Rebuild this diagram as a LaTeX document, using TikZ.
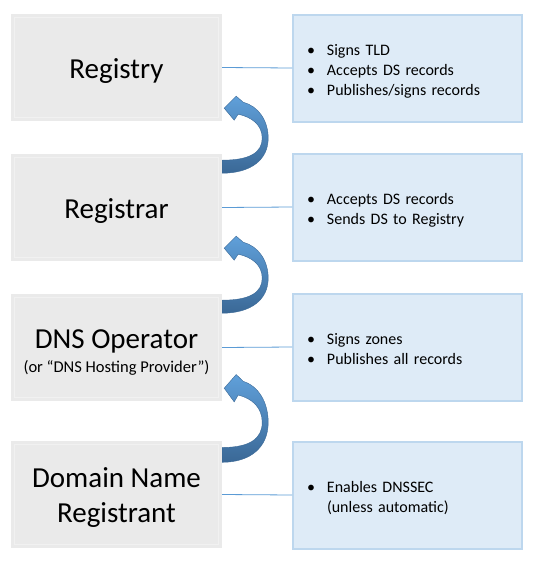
\documentclass[tikz,border=0pt]{standalone}
\usepackage{fontspec}
\setmainfont{Carlito}
\usepackage{tikz}
\usetikzlibrary{calc}
\definecolor{rolegray}{RGB}{234,234,234}
\definecolor{rolerim}{RGB}{241,241,241}
\definecolor{dutyfill}{RGB}{222,235,247}
\definecolor{dutyedge}{RGB}{189,215,238}
\definecolor{tieblue}{RGB}{91,155,213}
\definecolor{hooklight}{RGB}{96,160,218}
\definecolor{hookdark}{RGB}{58,104,150}
\tikzstyle{rolebox} = [rectangle, fill=rolegray, minimum width=211pt, minimum height=107pt, align=center, inner sep=0pt, font=\fontsize{29}{35}\selectfont, execute at begin node={\rule{0pt}{28pt}}, execute at end node={\rule[-6pt]{0pt}{6pt}}, path picture={\draw[rolerim, line width=1pt] ([xshift=3.5pt,yshift=-3.5pt]path picture bounding box.north west) rectangle ([xshift=-3.5pt,yshift=3.5pt]path picture bounding box.south east);}]
\tikzstyle{dutybox} = [rectangle, fill=dutyfill, draw=dutyedge, line width=2pt, minimum width=229pt, minimum height=107pt, text width=201pt, align=left, inner xsep=14pt, font=\fontsize{16}{20}\selectfont, execute at begin node={\rule{0pt}{18pt}}, execute at end node={\rule[-4pt]{0pt}{4pt}}]
\tikzstyle{tieline} = [draw=tieblue, line width=0.8pt]
\tikzstyle{hook} = [top color=hooklight, bottom color=hookdark, draw=hookdark, line width=0.4pt]
\newcommand{\bul}[1]{\makebox[20pt][l]{•}#1}
% curved arrow from the lower box back up to #1
\newcommand{\handoff}[2]{%
  \begin{scope}[shift={($(#1.south east)+(2,-13)$)}, yscale=#2]
    \shade[hook] (0,0) -- (12,-12) -- (19,-6) .. controls (34,-2) and (44,12) .. (44,30)
      .. controls (44,52) and (26,65) .. (-2,65) -- (-2,52)
      .. controls (26,52) and (38,44) .. (38,30) .. controls (38,17) and (28,9) .. (14,6)
      -- (10,12) -- cycle;
  \end{scope}}

\begin{document}
\begin{tikzpicture}[x=1pt, y=-1pt]
\useasboundingbox (0,0) rectangle (540,563);

% left column
\node[rolebox] (registry) at (116.5,67.5) {Registry};
\node[rolebox] (registrar) at (116.5,207.5) {Registrar};
\node[rolebox] (operator) at (116.5,347.5) {\rule{0pt}{32pt}DNS Operator\\[-11pt]{\fontsize{16.5}{20}\selectfont (or “DNS Hosting Provider”)}};
\node[rolebox] (registrant) at (116.5,494.5) {\rule{0pt}{26pt}Domain Name\\Registrant};

% right column
\node[dutybox] (registryduty) at (407.5,68) {\bul{Signs TLD}\\\bul{Accepts DS records}\\\bul{Publishes/signs records}};
\node[dutybox] (registrarduty) at (407.5,207) {\bul{Accepts DS records}\\\bul{Sends DS to Registry}};
\node[dutybox] (operatorduty) at (407.5,347) {\bul{Signs zones}\\\bul{Publishes all records}};
\node[dutybox] (registrantduty) at (407.5,495) {\bul{Enables DNSSEC}\\\hspace*{20pt}(unless automatic)};

\draw[tieline] (registry.east) -- (registryduty.west);
\draw[tieline] (registrar.east) -- (registrarduty.west);
\draw[tieline] (operator.east) -- (operatorduty.west);
\draw[tieline] (registrant.east) -- (registrantduty.west);

\handoff{registry}{1}
\handoff{registrar}{1}
\handoff{operator}{1.14}
\end{tikzpicture}
\end{document}
